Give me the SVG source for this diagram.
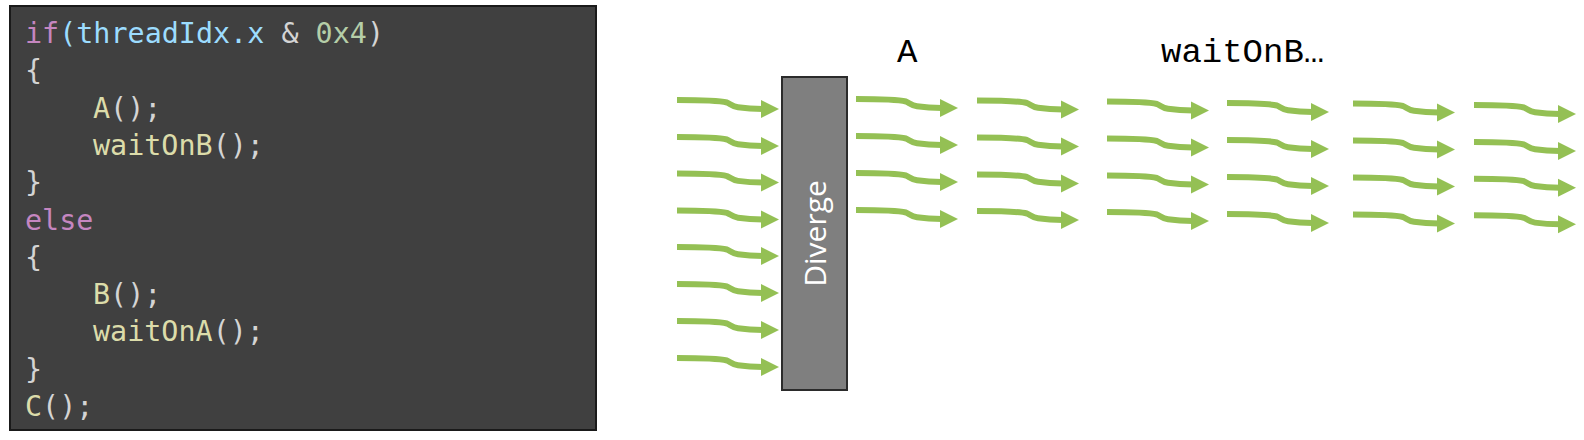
<svg xmlns="http://www.w3.org/2000/svg" xmlns:xlink="http://www.w3.org/1999/xlink" width="1584" height="440" viewBox="0 0 1584 440">
<style>
.code{font-family:"DejaVu Sans Mono","Liberation Mono",monospace;font-size:28.4px;fill:#D4D4D4}
.kw{fill:#C586C0}.var{fill:#9CDCFE}.fn{fill:#DCDCAA}.num{fill:#B5CEA8}
.lbl{font-family:"Liberation Mono","Courier New",monospace;font-size:34px;fill:#000}
.shaft{fill:none;stroke:#94C054;stroke-width:6}
.head{fill:#94C054}
</style>
<defs>
<g id="arr">
<path class="shaft" d="M0,0 C25,0 42,0.5 50,2.5 C54,4 55,6.5 61,7.3 C69,8.5 77,9 86,9"/>
<polygon class="head" points="84,0 102,9 84,18"/>
</g>
</defs>
<rect width="1584" height="440" fill="#fff"/>
<g id="code-panel">
<rect x="10" y="6" width="586" height="424" fill="#404040" stroke="#1a1a1a" stroke-width="2"/>
<text class="code" x="25" y="43"><tspan class="kw">if</tspan><tspan class="var">(threadIdx.x</tspan> &amp; <tspan class="num">0x4</tspan>)</text>
<text class="code" x="25" y="80.3">{</text>
<text class="code" x="93" y="117.6"><tspan class="fn">A</tspan>();</text>
<text class="code" x="93" y="154.9"><tspan class="fn">waitOnB</tspan>();</text>
<text class="code" x="25" y="192.2">}</text>
<text class="code kw" x="25" y="229.5">else</text>
<text class="code" x="25" y="266.8">{</text>
<text class="code" x="93" y="304.1"><tspan class="fn">B</tspan>();</text>
<text class="code" x="93" y="341.4"><tspan class="fn">waitOnA</tspan>();</text>
<text class="code" x="25" y="378.7">}</text>
<text class="code" x="25" y="416"><tspan class="fn">C</tspan>();</text>
</g>
<g id="diverge">
<rect x="782" y="77" width="65" height="313" fill="#7F7F7F" stroke="#2b2b2b" stroke-width="2"/>
<text transform="translate(826,233.5) rotate(-90)" text-anchor="middle" font-family="'Open Sans','Noto Sans',sans-serif" font-size="30" fill="#fff">Diverge</text>
</g>
<g id="labels">
<text class="lbl" x="897" y="62">A</text>
<text class="lbl" x="1161" y="62">waitOnB…</text>
</g>
<g id="connectors">
<use xlink:href="#arr" x="677" y="100"/>
<use xlink:href="#arr" x="677" y="137"/>
<use xlink:href="#arr" x="677" y="173.6"/>
<use xlink:href="#arr" x="677" y="210.4"/>
<use xlink:href="#arr" x="677" y="247"/>
<use xlink:href="#arr" x="677" y="284"/>
<use xlink:href="#arr" x="677" y="321"/>
<use xlink:href="#arr" x="677" y="358"/>
<use xlink:href="#arr" x="856" y="99"/>
<use xlink:href="#arr" x="856" y="136"/>
<use xlink:href="#arr" x="856" y="173"/>
<use xlink:href="#arr" x="856" y="210"/>
<use xlink:href="#arr" x="977" y="100.5"/>
<use xlink:href="#arr" x="977" y="137.5"/>
<use xlink:href="#arr" x="977" y="174.5"/>
<use xlink:href="#arr" x="977" y="211"/>
<use xlink:href="#arr" x="1107" y="101.5"/>
<use xlink:href="#arr" x="1107" y="138.5"/>
<use xlink:href="#arr" x="1107" y="175.5"/>
<use xlink:href="#arr" x="1107" y="212"/>
<use xlink:href="#arr" x="1227" y="103"/>
<use xlink:href="#arr" x="1227" y="140"/>
<use xlink:href="#arr" x="1227" y="177"/>
<use xlink:href="#arr" x="1227" y="214"/>
<use xlink:href="#arr" x="1353" y="103.5"/>
<use xlink:href="#arr" x="1353" y="140.5"/>
<use xlink:href="#arr" x="1353" y="177.5"/>
<use xlink:href="#arr" x="1353" y="214.5"/>
<use xlink:href="#arr" x="1474" y="105"/>
<use xlink:href="#arr" x="1474" y="142"/>
<use xlink:href="#arr" x="1474" y="178.7"/>
<use xlink:href="#arr" x="1474" y="215.3"/>
</g>
</svg>
